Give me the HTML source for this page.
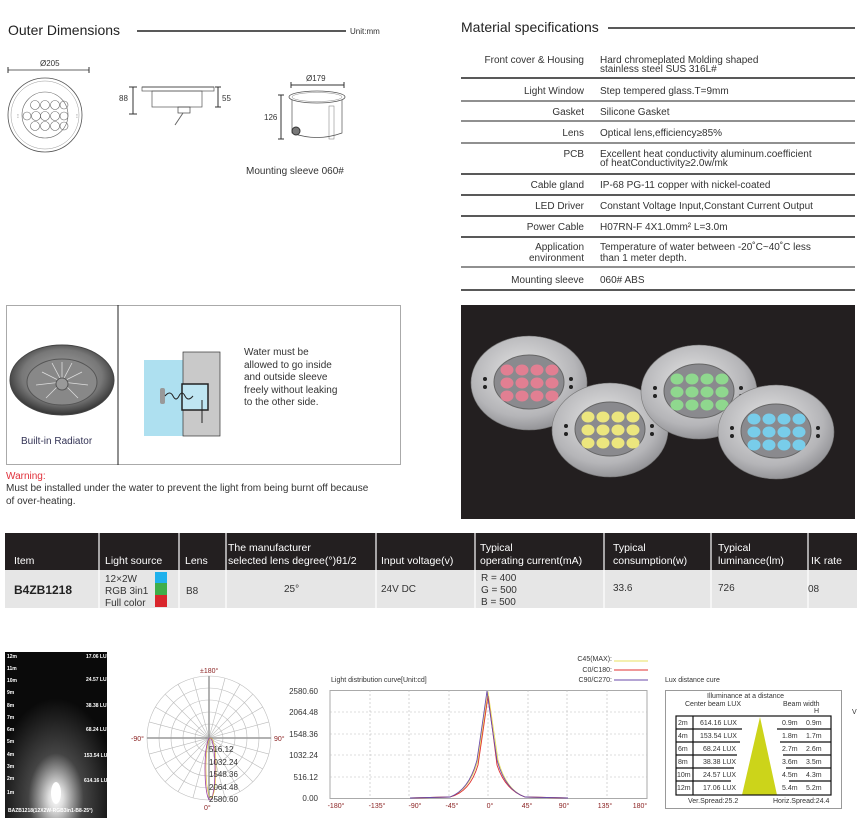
<!DOCTYPE html>
<html><head><meta charset="utf-8"><style>
html,body{margin:0;padding:0;background:#fff;}
svg{display:block;font-family:"Liberation Sans",Arial,sans-serif;}
</style></head><body>
<svg width="865" height="823" viewBox="0 0 865 823" xmlns="http://www.w3.org/2000/svg">
<defs>
<radialGradient id="steel" cx="45%" cy="40%" r="65%"><stop offset="0" stop-color="#e6e6e6"/><stop offset="0.7" stop-color="#b5b5b8"/><stop offset="1" stop-color="#8a8a8e"/></radialGradient>
<radialGradient id="beam" cx="50%" cy="88%" r="60%"><stop offset="0" stop-color="#fff"/><stop offset="0.12" stop-color="#ddd"/><stop offset="0.45" stop-color="#444"/><stop offset="1" stop-color="#0a0a0a"/></radialGradient>
<radialGradient id="rad" cx="50%" cy="45%" r="55%"><stop offset="0" stop-color="#aaa"/><stop offset="0.7" stop-color="#777"/><stop offset="1" stop-color="#333"/></radialGradient>
<g id="lamp">
<ellipse cx="0" cy="0" rx="58" ry="47" fill="url(#steel)" stroke="#777" stroke-width="0.6"/>
<ellipse cx="0" cy="-1" rx="35" ry="27" fill="#8a8a8e" stroke="#666"/>
<circle cx="-44" cy="-4" r="2" fill="#222"/><circle cx="-44" cy="4" r="2" fill="#222"/>
<circle cx="42" cy="-4" r="2" fill="#222"/><circle cx="42" cy="4" r="2" fill="#222"/>
</g>
</defs>
<!-- Outer dimensions -->
<text x="8" y="35" font-size="14" fill="#222">Outer Dimensions</text>
<line x1="137" y1="31" x2="346" y2="31" stroke="#222" stroke-width="1.5"/>
<text x="350" y="34" font-size="8" fill="#333">Unit:mm</text>
<text x="40" y="66" font-size="8" fill="#333">Ø205</text>
<line x1="8" y1="70" x2="89" y2="70" stroke="#333" stroke-width="0.8"/>
<line x1="8" y1="67" x2="8" y2="73" stroke="#333"/><line x1="89" y1="67" x2="89" y2="73" stroke="#333"/>
<circle cx="45" cy="115" r="37" fill="none" stroke="#555" stroke-width="0.8"/>
<circle cx="45" cy="115" r="34" fill="none" stroke="#999" stroke-width="0.5"/>
<circle cx="45" cy="115" r="23" fill="none" stroke="#666" stroke-width="0.6"/>
<g fill="none" stroke="#666" stroke-width="0.6">
<circle cx="35" cy="105" r="4.5"/><circle cx="45" cy="105" r="4.5"/><circle cx="55" cy="105" r="4.5"/><circle cx="64" cy="105" r="4"/>
<circle cx="27" cy="116" r="4"/><circle cx="36" cy="116" r="4.5"/><circle cx="45" cy="116" r="4.5"/><circle cx="55" cy="116" r="4.5"/><circle cx="64" cy="116" r="4"/>
<circle cx="35" cy="126" r="4.5"/><circle cx="45" cy="126" r="4.5"/><circle cx="55" cy="126" r="4.5"/><circle cx="64" cy="126" r="4"/>
</g>
<text x="17" y="118" font-size="6" fill="#666">⁝</text><text x="76" y="118" font-size="6" fill="#666">⁝</text>
<!-- side view -->
<line x1="142" y1="87" x2="214" y2="87" stroke="#444"/><rect x="142" y="87" width="72" height="4" fill="none" stroke="#555" stroke-width="0.7"/>
<rect x="152" y="91" width="50" height="16" fill="none" stroke="#555" stroke-width="0.7"/>
<rect x="178" y="107" width="12" height="6" fill="none" stroke="#444" stroke-width="0.7"/>
<path d="M183 113 q-4 6 -8 12" fill="none" stroke="#666"/>
<line x1="133" y1="87" x2="133" y2="114" stroke="#333"/><line x1="129" y1="87" x2="137" y2="87" stroke="#333"/><line x1="129" y1="114" x2="137" y2="114" stroke="#333"/>
<text x="119" y="101" font-size="8" fill="#333">88</text>
<line x1="218" y1="87" x2="218" y2="107" stroke="#333"/><line x1="215" y1="87" x2="221" y2="87" stroke="#333"/><line x1="215" y1="107" x2="221" y2="107" stroke="#333"/>
<text x="222" y="101" font-size="8" fill="#333">55</text>
<!-- sleeve -->
<text x="306" y="81" font-size="8" fill="#333">Ø179</text>
<line x1="291" y1="85" x2="344" y2="85" stroke="#333"/><line x1="291" y1="82" x2="291" y2="88" stroke="#333"/><line x1="344" y1="82" x2="344" y2="88" stroke="#333"/>
<ellipse cx="317" cy="97" rx="28" ry="6" fill="none" stroke="#555" stroke-width="0.8"/>
<ellipse cx="317" cy="97" rx="25" ry="4.5" fill="none" stroke="#888" stroke-width="0.5"/>
<path d="M292 100 V133 Q317 142 342 133 V100" fill="none" stroke="#555" stroke-width="0.7"/>
<rect x="329" y="106" width="5" height="33" fill="none" stroke="#777" stroke-width="0.5"/>
<circle cx="296" cy="131" r="4" fill="#777" stroke="#333"/>
<line x1="281" y1="95" x2="281" y2="139" stroke="#333"/><line x1="278" y1="95" x2="284" y2="95" stroke="#333"/><line x1="278" y1="139" x2="284" y2="139" stroke="#333"/>
<text x="264" y="120" font-size="8" fill="#333">126</text>
<text x="246" y="174" font-size="10" fill="#333">Mounting sleeve 060#</text>
<!-- Material specs -->
<text x="461" y="32" font-size="14" fill="#222">Material specifications</text>
<line x1="608" y1="28" x2="855" y2="28" stroke="#222" stroke-width="1.5"/>
<g font-size="10" fill="#333">
<g text-anchor="end">
<text x="584" y="63">Front cover &amp; Housing</text>
<text x="584" y="94">Light Window</text>
<text x="584" y="115">Gasket</text>
<text x="584" y="136">Lens</text>
<text x="584" y="157">PCB</text>
<text x="584" y="188">Cable gland</text>
<text x="584" y="209">LED Driver</text>
<text x="584" y="230">Power Cable</text>
<text x="584" y="250">Application</text>
<text x="584" y="261">environment</text>
<text x="584" y="283">Mounting sleeve</text>
</g>
<text x="600" y="63">Hard chromeplated Molding shaped</text>
<text x="600" y="72">stainless steel SUS 316L#</text>
<text x="600" y="94">Step tempered glass.T=9mm</text>
<text x="600" y="115">Silicone Gasket</text>
<text x="600" y="136">Optical lens,efficiency≥85%</text>
<text x="600" y="157">Excellent heat conductivity aluminum.coefficient</text>
<text x="600" y="166">of heatConductivity≥2.0w/mk</text>
<text x="600" y="188">IP-68 PG-11 copper with nickel-coated</text>
<text x="600" y="209">Constant Voltage Input,Constant Current Output</text>
<text x="600" y="230">H07RN-F 4X1.0mm² L=3.0m</text>
<text x="600" y="250">Temperature of water between -20˚C~40˚C less</text>
<text x="600" y="261">than 1 meter depth.</text>
<text x="600" y="283">060# ABS</text>
</g>
<g stroke="#222">
<line x1="461" y1="78" x2="855" y2="78" stroke-width="1.5"/>
<line x1="461" y1="101" x2="855" y2="101"/>
<line x1="461" y1="121" x2="855" y2="121"/>
<line x1="461" y1="143" x2="855" y2="143"/>
<line x1="461" y1="174" x2="855" y2="174" stroke-width="1.5"/>
<line x1="461" y1="195" x2="855" y2="195" stroke-width="1.5"/>
<line x1="461" y1="216" x2="855" y2="216" stroke-width="1.5"/>
<line x1="461" y1="237" x2="855" y2="237" stroke-width="1.5"/>
<line x1="461" y1="267" x2="855" y2="267"/>
<line x1="461" y1="290" x2="855" y2="290" stroke-width="1.5"/>
</g>
<!-- install box -->
<rect x="6.5" y="305.5" width="394" height="159" fill="none" stroke="#aaa"/>
<line x1="118" y1="305" x2="118" y2="465" stroke="#222"/>
<ellipse cx="62" cy="380" rx="52" ry="35" fill="url(#rad)" stroke="#444"/>
<ellipse cx="62" cy="382" rx="35" ry="23" fill="#888" stroke="#555"/>
<g stroke="#ddd" stroke-width="0.8"><line x1="62" y1="382" x2="62" y2="362"/><line x1="62" y1="382" x2="82" y2="372"/><line x1="62" y1="382" x2="88" y2="385"/><line x1="62" y1="382" x2="78" y2="398"/><line x1="62" y1="382" x2="46" y2="398"/><line x1="62" y1="382" x2="36" y2="385"/><line x1="62" y1="382" x2="42" y2="372"/><line x1="62" y1="382" x2="72" y2="363"/><line x1="62" y1="382" x2="52" y2="363"/></g>
<circle cx="62" cy="384" r="6" fill="#999" stroke="#555"/>
<text x="21" y="444" font-size="10" fill="#335">Built-in Radiator</text>
<rect x="144" y="360" width="40" height="76" fill="#aee0f0"/>
<rect x="183" y="352" width="37" height="84" fill="#c9c9c9" stroke="#333" stroke-width="0.7"/>
<rect x="182" y="384" width="26" height="26" fill="#bfe6f2" stroke="#222" stroke-width="1.5"/>
<rect x="160" y="388" width="5" height="16" rx="2" fill="#999"/>
<path d="M165 396 q5 -6 8 0 q3 6 6 0 q3 -6 6 0 q3 6 8 0" fill="none" stroke="#222"/>
<line x1="202" y1="400" x2="202" y2="423" stroke="#222"/>
<g font-size="10" fill="#333"><text x="244" y="355">Water must be</text><text x="244" y="368">allowed to go inside</text><text x="244" y="380">and outside sleeve</text><text x="244" y="393">freely without leaking</text><text x="244" y="405">to the other side.</text></g>
<text x="6" y="479" font-size="10" fill="#e0303a">Warning:</text>
<text x="6" y="491" font-size="10" fill="#333">Must be installed under the water to prevent the light from being burnt off because</text>
<text x="6" y="504" font-size="10" fill="#333">of over-heating.</text>
<!-- product photo -->
<rect x="461" y="305" width="394" height="214" fill="#231f20"/>
<g transform="translate(529,383)"><use href="#lamp"/><g fill="#e27f92"><ellipse cx="-22" cy="-13" rx="6.5" ry="5.5"/><ellipse cx="-7" cy="-13" rx="6.5" ry="5.5"/><ellipse cx="8" cy="-13" rx="6.5" ry="5.5"/><ellipse cx="23" cy="-13" rx="6.5" ry="5.5"/><ellipse cx="-22" cy="0" rx="6.5" ry="5.5"/><ellipse cx="-7" cy="0" rx="6.5" ry="5.5"/><ellipse cx="8" cy="0" rx="6.5" ry="5.5"/><ellipse cx="23" cy="0" rx="6.5" ry="5.5"/><ellipse cx="-22" cy="13" rx="6.5" ry="5.5"/><ellipse cx="-7" cy="13" rx="6.5" ry="5.5"/><ellipse cx="8" cy="13" rx="6.5" ry="5.5"/><ellipse cx="23" cy="13" rx="6.5" ry="5.5"/></g></g>
<g transform="translate(610,430)"><use href="#lamp"/><g fill="#ece67e"><ellipse cx="-22" cy="-13" rx="6.5" ry="5.5"/><ellipse cx="-7" cy="-13" rx="6.5" ry="5.5"/><ellipse cx="8" cy="-13" rx="6.5" ry="5.5"/><ellipse cx="23" cy="-13" rx="6.5" ry="5.5"/><ellipse cx="-22" cy="0" rx="6.5" ry="5.5"/><ellipse cx="-7" cy="0" rx="6.5" ry="5.5"/><ellipse cx="8" cy="0" rx="6.5" ry="5.5"/><ellipse cx="23" cy="0" rx="6.5" ry="5.5"/><ellipse cx="-22" cy="13" rx="6.5" ry="5.5"/><ellipse cx="-7" cy="13" rx="6.5" ry="5.5"/><ellipse cx="8" cy="13" rx="6.5" ry="5.5"/><ellipse cx="23" cy="13" rx="6.5" ry="5.5"/></g></g>
<g transform="translate(699,392)"><use href="#lamp"/><g fill="#8fd88e"><ellipse cx="-22" cy="-13" rx="6.5" ry="5.5"/><ellipse cx="-7" cy="-13" rx="6.5" ry="5.5"/><ellipse cx="8" cy="-13" rx="6.5" ry="5.5"/><ellipse cx="23" cy="-13" rx="6.5" ry="5.5"/><ellipse cx="-22" cy="0" rx="6.5" ry="5.5"/><ellipse cx="-7" cy="0" rx="6.5" ry="5.5"/><ellipse cx="8" cy="0" rx="6.5" ry="5.5"/><ellipse cx="23" cy="0" rx="6.5" ry="5.5"/><ellipse cx="-22" cy="13" rx="6.5" ry="5.5"/><ellipse cx="-7" cy="13" rx="6.5" ry="5.5"/><ellipse cx="8" cy="13" rx="6.5" ry="5.5"/><ellipse cx="23" cy="13" rx="6.5" ry="5.5"/></g></g>
<g transform="translate(776,432)"><use href="#lamp"/><g fill="#78cdea"><ellipse cx="-22" cy="-13" rx="6.5" ry="5.5"/><ellipse cx="-7" cy="-13" rx="6.5" ry="5.5"/><ellipse cx="8" cy="-13" rx="6.5" ry="5.5"/><ellipse cx="23" cy="-13" rx="6.5" ry="5.5"/><ellipse cx="-22" cy="0" rx="6.5" ry="5.5"/><ellipse cx="-7" cy="0" rx="6.5" ry="5.5"/><ellipse cx="8" cy="0" rx="6.5" ry="5.5"/><ellipse cx="23" cy="0" rx="6.5" ry="5.5"/><ellipse cx="-22" cy="13" rx="6.5" ry="5.5"/><ellipse cx="-7" cy="13" rx="6.5" ry="5.5"/><ellipse cx="8" cy="13" rx="6.5" ry="5.5"/><ellipse cx="23" cy="13" rx="6.5" ry="5.5"/></g></g>
<!-- product table -->
<rect x="5" y="533" width="852" height="37" fill="#231f20"/>
<rect x="5" y="570" width="852" height="38" fill="#e6e6e6"/>
<g stroke="#fff" stroke-width="1.2"><line x1="99" y1="533" x2="99" y2="608"/><line x1="179" y1="533" x2="179" y2="608"/><line x1="226" y1="533" x2="226" y2="608"/><line x1="376" y1="533" x2="376" y2="608"/><line x1="475" y1="533" x2="475" y2="608"/><line x1="604" y1="533" x2="604" y2="608"/><line x1="711" y1="533" x2="711" y2="608"/><line x1="808" y1="533" x2="808" y2="608"/></g>
<g font-size="10.5" fill="#fff">
<text x="14" y="564">Item</text><text x="105" y="564">Light source</text><text x="185" y="564">Lens</text>
<text x="228" y="551">The manufacturer</text><text x="228" y="564">selected lens degree(°)θ1/2</text>
<text x="381" y="564">Input voltage(v)</text>
<text x="480" y="551">Typical</text><text x="480" y="564">operating current(mA)</text>
<text x="613" y="551">Typical</text><text x="613" y="564">consumption(w)</text>
<text x="718" y="551">Typical</text><text x="718" y="564">luminance(lm)</text>
<text x="811" y="564">IK rate</text>
</g>
<g font-size="10" fill="#333">
<text x="14" y="594" font-size="12" font-weight="bold" fill="#222">B4ZB1218</text>
<text x="105" y="582">12×2W</text><text x="105" y="594">RGB 3in1</text><text x="105" y="606">Full color</text>
<text x="186" y="594">B8</text><text x="284" y="592">25°</text><text x="381" y="592">24V DC</text>
<text x="481" y="581">R  = 400</text><text x="481" y="593">G = 500</text><text x="481" y="605">B  = 500</text>
<text x="613" y="591">33.6</text><text x="718" y="591">726</text><text x="808" y="592">08</text>
</g>
<rect x="155" y="572" width="12" height="11" fill="#1fb1ec"/><rect x="155" y="583" width="12" height="12" fill="#3fae49"/><rect x="155" y="595" width="12" height="12" fill="#d9262c"/>
<!-- beam image -->
<rect x="5" y="652" width="102" height="166" fill="url(#beam)"/>
<g font-size="5" fill="#fff" font-weight="bold">
<text x="7" y="658">12m</text><text x="7" y="670">11m</text><text x="7" y="682">10m</text><text x="7" y="694">9m</text><text x="7" y="707">8m</text><text x="7" y="719">7m</text><text x="7" y="731">6m</text><text x="7" y="743">5m</text><text x="7" y="756">4m</text><text x="7" y="768">3m</text><text x="7" y="780">2m</text><text x="7" y="794">1m</text>
<text x="86" y="658">17.06 LUX</text><text x="86" y="681">24.57 LUX</text><text x="86" y="707">38.38 LUX</text><text x="86" y="731">68.24 LUX</text><text x="84" y="757">153.54 LUX</text><text x="84" y="782">614.16 LUX</text>
<text x="8" y="812">BAZB1218(12X2W-RGB3in1-B8-25°)</text>
</g>
<ellipse cx="56" cy="793" rx="5" ry="11" fill="#fff"/>
<!-- polar -->
<g fill="none" stroke="#bbb" stroke-width="0.6">
<circle cx="209" cy="738" r="62"/><circle cx="209" cy="738" r="50"/><circle cx="209" cy="738" r="38"/><circle cx="209" cy="738" r="26"/><circle cx="209" cy="738" r="14"/>
<line x1="147" y1="738" x2="271" y2="738" transform="rotate(15 209 738)"/><line x1="147" y1="738" x2="271" y2="738" transform="rotate(30 209 738)"/><line x1="147" y1="738" x2="271" y2="738" transform="rotate(45 209 738)"/><line x1="147" y1="738" x2="271" y2="738" transform="rotate(60 209 738)"/><line x1="147" y1="738" x2="271" y2="738" transform="rotate(75 209 738)"/><line x1="147" y1="738" x2="271" y2="738" transform="rotate(105 209 738)"/><line x1="147" y1="738" x2="271" y2="738" transform="rotate(120 209 738)"/><line x1="147" y1="738" x2="271" y2="738" transform="rotate(135 209 738)"/><line x1="147" y1="738" x2="271" y2="738" transform="rotate(150 209 738)"/><line x1="147" y1="738" x2="271" y2="738" transform="rotate(165 209 738)"/>
</g>
<line x1="147" y1="738" x2="271" y2="738" stroke="#999" stroke-width="1.5"/><line x1="209" y1="676" x2="209" y2="800" stroke="#999" stroke-width="1.5"/>
<ellipse cx="210" cy="769" rx="5" ry="31" fill="none" stroke="#9b3aa0" stroke-width="0.8"/>
<ellipse cx="211" cy="768" rx="5" ry="30" fill="none" stroke="#e0c030" stroke-width="0.6"/>
<g font-size="8" fill="#333"><text x="209" y="752">516.12</text><text x="209" y="765">1032.24</text><text x="209" y="777">1548.36</text><text x="209" y="790">2064.48</text><text x="209" y="802">2580.60</text></g>
<g font-size="7" fill="#8b2323"><text x="200" y="673">±180°</text><text x="131" y="741">-90°</text><text x="274" y="741">90°</text><text x="204" y="810">0°</text></g>
<!-- line chart -->
<text x="331" y="682" font-size="7" fill="#333">Light distribution curve[Unit:cd]</text>
<rect x="330" y="690.5" width="317" height="108" fill="none" stroke="#aaa"/>
<g stroke="#bbb" stroke-dasharray="2,2" stroke-width="0.6">
<line x1="330" y1="712" x2="647" y2="712"/><line x1="330" y1="734" x2="647" y2="734"/><line x1="330" y1="755" x2="647" y2="755"/><line x1="330" y1="777" x2="647" y2="777"/>
<line x1="370" y1="690" x2="370" y2="798"/><line x1="409" y1="690" x2="409" y2="798"/><line x1="449" y1="690" x2="449" y2="798"/><line x1="488" y1="690" x2="488" y2="798"/><line x1="528" y1="690" x2="528" y2="798"/><line x1="567" y1="690" x2="567" y2="798"/><line x1="607" y1="690" x2="607" y2="798"/>
</g>
<g font-size="8" fill="#333" text-anchor="end"><text x="318" y="694">2580.60</text><text x="318" y="715">2064.48</text><text x="318" y="737">1548.36</text><text x="318" y="758">1032.24</text><text x="318" y="780">516.12</text><text x="318" y="801">0.00</text></g>
<g font-size="7" fill="#8b2323" text-anchor="middle"><text x="336" y="808">-180°</text><text x="377" y="808">-135°</text><text x="415" y="808">-90°</text><text x="452" y="808">-45°</text><text x="490" y="808">0°</text><text x="527" y="808">45°</text><text x="564" y="808">90°</text><text x="605" y="808">135°</text><text x="640" y="808">180°</text></g>
<path d="M410 798 L450 797 Q470 790 478 760 Q484 720 488 692 Q492 720 498 760 Q506 790 525 797 L568 798" fill="none" stroke="#e8e060" stroke-width="0.9"/>
<path d="M410 798 L450 797 Q470 792 478 765 Q484 725 488 696 Q492 725 497 765 Q505 790 525 797 L568 798" fill="none" stroke="#e03030" stroke-width="0.9"/>
<path d="M410 798 L450 797 Q469 790 477 760 Q483 720 487 691 Q491 720 497 760 Q505 790 525 797 L568 798" fill="none" stroke="#6a4aa8" stroke-width="0.9"/>
<g font-size="7" fill="#333" text-anchor="end"><text x="612" y="661">C45(MAX):</text><text x="612" y="672">C0/C180:</text><text x="612" y="682">C90/C270:</text></g>
<line x1="614" y1="661" x2="648" y2="661" stroke="#e8e060"/><line x1="614" y1="670" x2="648" y2="670" stroke="#e03030"/><line x1="614" y1="680" x2="648" y2="680" stroke="#6a4aa8"/>
<!-- lux box -->
<text x="665" y="682" font-size="7" fill="#333">Lux distance cure</text>
<rect x="665.5" y="690.5" width="176" height="118" fill="none" stroke="#999"/>
<g font-size="7" fill="#333"><text x="707" y="698">Illuminance at a distance</text><text x="685" y="706">Center beam LUX</text><text x="783" y="706">Beam width</text><text x="814" y="713">H</text><text x="852" y="714">V</text></g>
<polygon points="760,717 742,795 777,795" fill="#ccd41a"/>
<g fill="none" stroke="#111" stroke-width="1.2">
<rect x="676" y="716" width="155" height="79"/>
<line x1="676" y1="729" x2="742" y2="729"/><line x1="777" y1="729" x2="831" y2="729"/>
<line x1="676" y1="742" x2="740" y2="742"/><line x1="780" y1="742" x2="831" y2="742"/>
<line x1="676" y1="755" x2="737" y2="755"/><line x1="783" y1="755" x2="831" y2="755"/>
<line x1="676" y1="768" x2="734" y2="768"/><line x1="786" y1="768" x2="831" y2="768"/>
<line x1="676" y1="781" x2="731" y2="781"/><line x1="789" y1="781" x2="831" y2="781"/>
<line x1="693" y1="716" x2="693" y2="795"/>
</g>
<g font-size="7" fill="#333">
<text x="678" y="725">2m</text><text x="700" y="725">614.16 LUX</text><text x="782" y="725">0.9m</text><text x="806" y="725">0.9m</text>
<text x="678" y="738">4m</text><text x="700" y="738">153.54 LUX</text><text x="782" y="738">1.8m</text><text x="806" y="738">1.7m</text>
<text x="678" y="751">6m</text><text x="703" y="751">68.24 LUX</text><text x="782" y="751">2.7m</text><text x="806" y="751">2.6m</text>
<text x="678" y="764">8m</text><text x="703" y="764">38.38 LUX</text><text x="782" y="764">3.6m</text><text x="806" y="764">3.5m</text>
<text x="677" y="777">10m</text><text x="703" y="777">24.57 LUX</text><text x="782" y="777">4.5m</text><text x="806" y="777">4.3m</text>
<text x="677" y="790">12m</text><text x="703" y="790">17.06 LUX</text><text x="782" y="790">5.4m</text><text x="806" y="790">5.2m</text>
<text x="688" y="803">Ver.Spread:25.2</text><text x="773" y="803">Horiz.Spread:24.4</text>
</g>
</svg>
</body></html>
